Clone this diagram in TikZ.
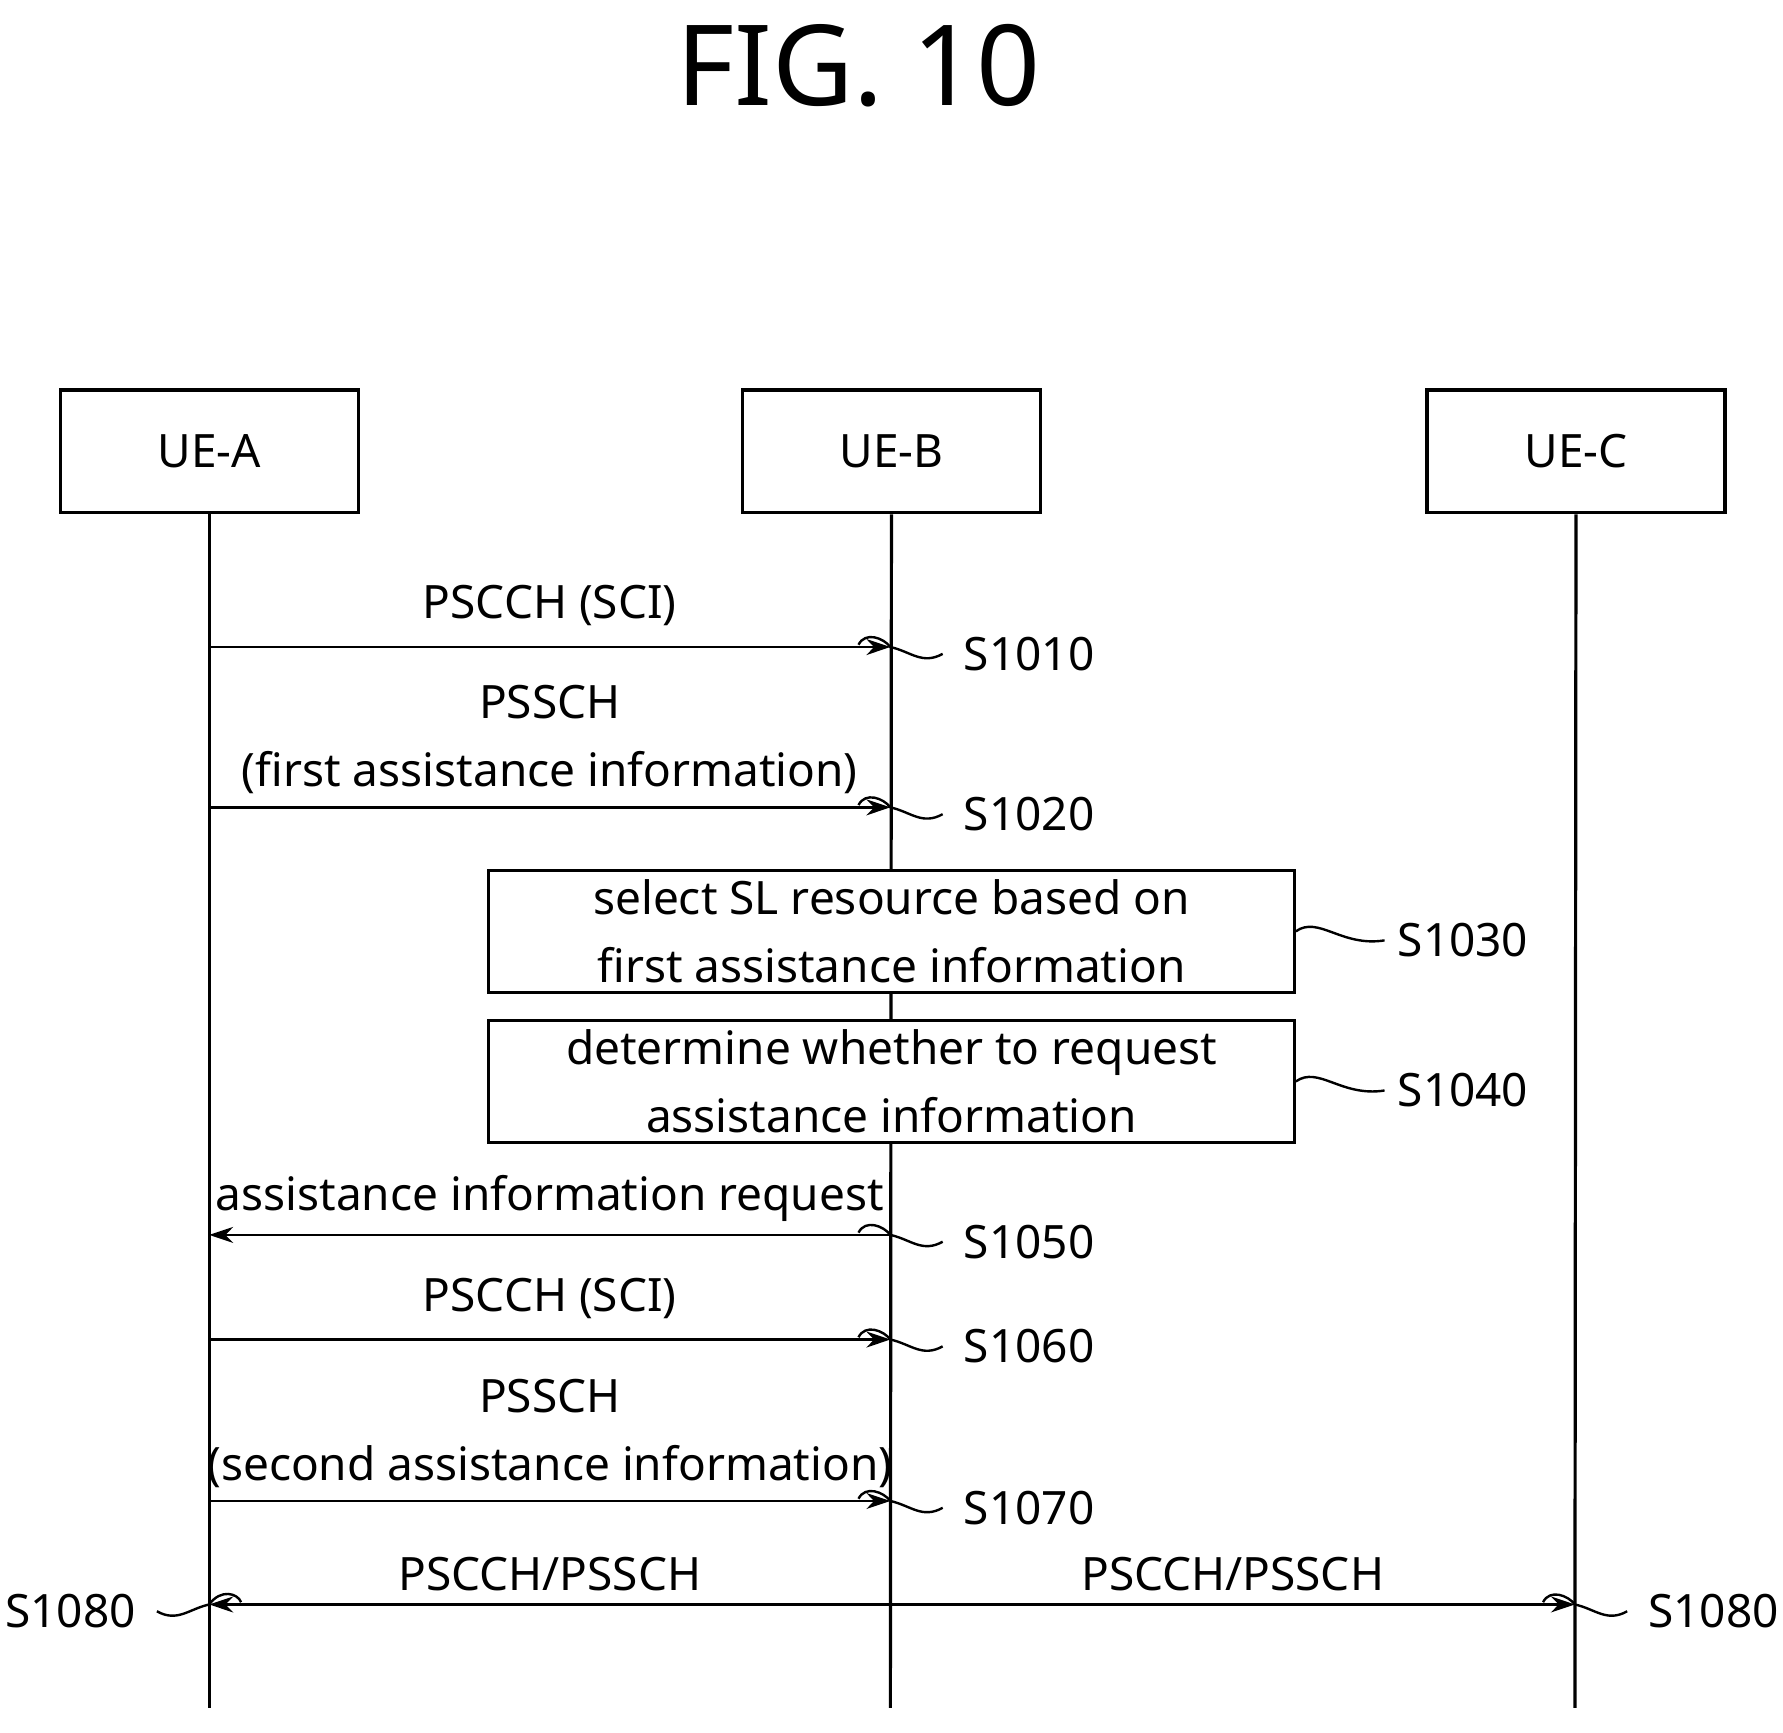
\documentclass[tikz,border=0pt]{standalone}
\usepackage{fontspec}
\setmainfont{Noto Sans}
\usetikzlibrary{positioning,arrows.meta,calc}
\tikzset{
  ue/.style={draw,thick,minimum width=2.62cm,minimum height=1.08cm,inner sep=0pt,font=\fontsize{11.5}{14}\selectfont},
  proc/.style={draw,thick,minimum width=7.08cm,minimum height=1.07cm,align=center,inner sep=0pt,font=\fontsize{11.5}{17}\selectfont},
  life/.style={thick},
  msg/.style={-{Stealth[length=6pt,width=4pt]},semithick},
  lbl/.style={font=\fontsize{11.5}{17}\selectfont,inner sep=1pt},
  num/.style={font=\fontsize{11.5}{14}\selectfont,inner sep=1pt},
  wave/.style={semithick}
}
\begin{document}
\begin{tikzpicture}[x=0.01cm,y=-0.01cm]
\useasboundingbox (0,0) rectangle (1568,1524);
\node[font=\fontsize{28}{30}\selectfont](title) at (755,58) {FIG. 10};
% entities
\node[ue](A) at (184,397) {UE-A};
\node[ue](B) at (784,397) {UE-B};
\node[ue](C) at (1386,397) {UE-C};
\coordinate (Aend) at (184,1502);
\coordinate (Bend) at (783,1502);
\coordinate (Cend) at (1385,1502);
\draw[life] (A) -- (Aend);
\draw[life] (B) -- (Bend);
\draw[life] (C) -- (Cend);
% messages
\coordinate (a1) at (184,569); \coordinate (b1) at (783,569);
\coordinate (a2) at (184,710); \coordinate (b2) at (783,710);
\coordinate (a5) at (184,1086); \coordinate (b5) at (783,1086);
\coordinate (a6) at (184,1178); \coordinate (b6) at (783,1178);
\coordinate (a7) at (184,1320); \coordinate (b7) at (783,1320);
\coordinate (a8) at (184,1411); \coordinate (b8) at (783,1411); \coordinate (c8) at (1385,1411);
\draw[msg] (a1) -- node[lbl,above=4pt]{PSCCH (SCI)} (b1);
\draw[msg] (a2) -- node[lbl,above=2pt,align=center]{PSSCH\\(first assistance information)} (b2);
\node[proc,fill=white](s30) at (784,819) {select SL resource based on\\first assistance information};
\node[proc,fill=white](s40) at (784,951) {determine whether to request\\assistance information};
\draw[msg] (b5) -- node[lbl,above=2pt]{assistance information request} (a5);
\draw[msg] (a6) -- node[lbl,above=4pt]{PSCCH (SCI)} (b6);
\draw[msg] (a7) -- node[lbl,above=2pt,align=center]{PSSCH\\(second assistance information)} (b7);
\draw[msg] (b8) -- node[lbl,above=2pt]{PSCCH/PSSCH} (a8);
\draw[msg] (b8) -- node[lbl,above=2pt]{PSCCH/PSSCH} (c8);
% step numbers
\foreach \p/\t in {b1/S1010,b2/S1020,b5/S1050,b6/S1060,b7/S1070,c8/S1080}{
  \draw[wave] ($(\p)+(-28,-2)$) .. controls ($(\p)+(-22,-14)$) and ($(\p)+(-6,-8)$) .. (\p)
    .. controls ($(\p)+(18,4)$) and ($(\p)+(28,16)$) .. ($(\p)+(46,6)$) node[num,right=4pt]{\t};
}
\draw[wave] (a8) .. controls ($(a8)+(10,-14)$) and ($(a8)+(25,-10)$) .. ($(a8)+(28,-2)$);
\draw[wave] (a8) .. controls ($(a8)+(-18,4)$) and ($(a8)+(-28,16)$) .. ($(a8)+(-46,6)$) node[num,left=4pt]{S1080};
\draw[wave] (s30.east) .. controls ($(s30.east)+(20,-14)$) and ($(s30.east)+(40,14)$) .. ($(s30.east)+(78,8)$) node[num,right=2pt]{S1030};
\draw[wave] (s40.east) .. controls ($(s40.east)+(20,-14)$) and ($(s40.east)+(40,14)$) .. ($(s40.east)+(78,8)$) node[num,right=2pt]{S1040};
\end{tikzpicture}
\end{document}
